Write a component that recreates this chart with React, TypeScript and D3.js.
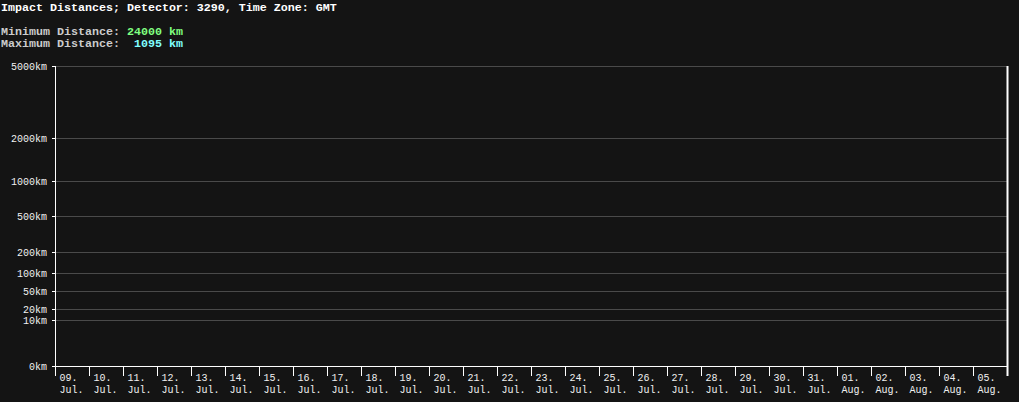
import React from "react";
import * as d3 from "d3";

const title = "Impact Distances; Detector: 3290, Time Zone: GMT";
const minLabel = "Minimum Distance: ";
const minValue = "24000 km";
const maxLabel = "Maximum Distance:\u00a0\u00a0";
const maxValue = "1095 km";
const yTicks = [0, 10, 20, 50, 100, 200, 500, 1000, 2000, 5000];
const days = ["09.", "10.", "11.", "12.", "13.", "14.", "15.", "16.", "17.", "18.", "19.", "20.", "21.", "22.", "23.", "24.", "25.", "26.", "27.", "28.", "29.", "30.", "31.", "01.", "02.", "03.", "04.", "05."];
const months = ["Jul.", "Jul.", "Jul.", "Jul.", "Jul.", "Jul.", "Jul.", "Jul.", "Jul.", "Jul.", "Jul.", "Jul.", "Jul.", "Jul.", "Jul.", "Jul.", "Jul.", "Jul.", "Jul.", "Jul.", "Jul.", "Jul.", "Jul.", "Aug.", "Aug.", "Aug.", "Aug.", "Aug."];

const W = 1019, H = 402;
const left = 55, right = 1007, top = 66, bottom = 366;
const font = "'Liberation Mono', 'DejaVu Sans Mono', monospace";
const axisSize = 10;

export default function App() {
  const y = d3.scalePow().exponent(0.3).domain([0, 5000]).range([bottom, top]);
  const x = d3.scaleLinear().domain([0, days.length]).range([left, right]);
  return (
    <svg width={W} height={H} style={{ position: "absolute", left: 0, top: 0, background: "#141414" }}>
      <rect x={0} y={0} width={W} height={H} fill="#141414" />
      <g fontFamily={font} fontSize={11.67} fontWeight="bold">
        <text x={1} y={11} fill="#ffffff">{title}</text>
        <text x={1} y={35} fill="#cccccc">{minLabel}<tspan fill="#80ff80">{minValue}</tspan></text>
        <text x={1} y={47} fill="#cccccc">{maxLabel}<tspan fill="#80ffff">{maxValue}</tspan></text>
      </g>
      {yTicks.map((t) => (
        <g key={t}>
          {t > 0 && <line x1={left} x2={right} y1={Math.round(y(t)) + 0.5} y2={Math.round(y(t)) + 0.5} stroke="#4a4a4a" />}
          <line x1={left - 3} x2={left} y1={Math.round(y(t)) + 0.5} y2={Math.round(y(t)) + 0.5} stroke="#ffffff" />
          <text x={47} y={Math.round(y(t)) + 4} textAnchor="end" fill="#f0f0f0" fontFamily={font} fontSize={axisSize}>{t}km</text>
        </g>
      ))}
      <line x1={left + 0.5} x2={left + 0.5} y1={top} y2={bottom + 1} stroke="#ffffff" />
      <line x1={right + 0.5} x2={right + 0.5} y1={top} y2={bottom + 10} stroke="#ffffff" strokeWidth={2} />
      <line x1={left} x2={right} y1={bottom + 0.5} y2={bottom + 0.5} stroke="#ffffff" />
      {days.map((d, i) => (
        <g key={i}>
          <line x1={Math.round(x(i)) + 0.5} x2={Math.round(x(i)) + 0.5} y1={bottom} y2={bottom + 10} stroke="#ffffff" />
          <text x={x(i) + 4.5} y={381} fill="#f0f0f0" fontFamily={font} fontSize={axisSize}>{d}</text>
          <text x={x(i) + 4.5} y={393} fill="#f0f0f0" fontFamily={font} fontSize={axisSize}>{months[i]}</text>
        </g>
      ))}
    </svg>
  );
}
